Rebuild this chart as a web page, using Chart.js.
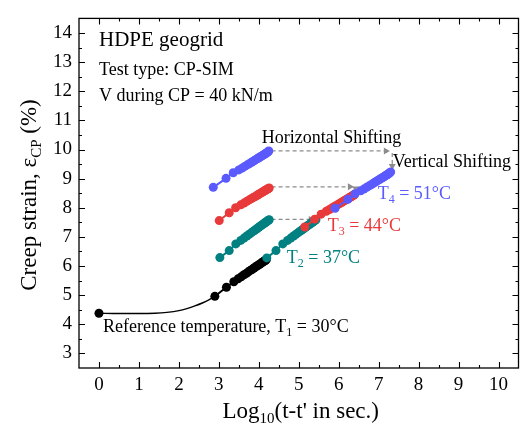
<!DOCTYPE html>
<html><head><meta charset="utf-8">
<script src="https://cdn.jsdelivr.net/npm/chart.js@4"></script>
<style>html,body{margin:0;padding:0;background:#fff}canvas{display:block}</style>
</head><body>
<canvas id="c" width="523" height="428"></canvas>
<script>
// ---- tick values ----
const xTickValues = [0,1,2,3,4,5,6,7,8,9,10];
const yTickValues = [3,4,5,6,7,8,9,10,11,12,13,14];

// ---- reference (T1 = 30°C) ----
const refCurveX = [0,0.5,1.0,1.4,1.7,2.0,2.2,2.4,2.6,2.75,2.9];
const refCurveY = [4.38,4.37,4.37,4.38,4.41,4.47,4.54,4.63,4.74,4.84,4.96];
const refX = [2.9,3.19,3.375,3.48,3.56,3.63,3.69,3.74,3.79,3.83,3.87,3.90,3.93,3.96,3.99,4.02,4.04,4.07,4.09,4.11,4.13,4.15,4.17,4.19];
const refY = [4.96,5.27,5.46,5.56,5.63,5.70,5.75,5.80,5.85,5.88,5.92,5.95,5.98,6.01,6.03,6.06,6.08,6.11,6.13,6.15,6.16,6.18,6.20,6.22];

// ---- T2 = 37°C ----
const t2X  = [3.025,3.26,3.425,3.55,3.63,3.70,3.76,3.81,3.86,3.90,3.94,3.97,4.00,4.03,4.06,4.09,4.11,4.14,4.16,4.18,4.20,4.22,4.24,4.26];
const t2Y  = [6.29,6.53,6.76,6.88,6.96,7.03,7.09,7.14,7.19,7.23,7.27,7.30,7.33,7.36,7.39,7.42,7.44,7.47,7.49,7.51,7.53,7.55,7.57,7.59];
const t2sX = [4.20,4.43,4.60,4.72,4.80,4.87,4.93,4.98,5.03,5.07,5.11,5.14,5.17,5.20,5.23,5.26,5.28,5.31,5.33,5.35,5.37,5.39,5.41,5.43];
const t2sY = [6.28,6.53,6.76,6.88,6.96,7.03,7.09,7.14,7.19,7.23,7.27,7.30,7.33,7.36,7.39,7.42,7.44,7.47,7.49,7.51,7.53,7.55,7.57,7.59];

// ---- T3 = 44°C ----
const t3X  = [3.01,3.26,3.42,3.55,3.63,3.70,3.76,3.81,3.86,3.90,3.94,3.97,4.00,4.03,4.06,4.09,4.11,4.14,4.16,4.18,4.20,4.22,4.24,4.26];
const t3Y  = [7.56,7.83,8.00,8.10,8.16,8.22,8.27,8.31,8.35,8.38,8.41,8.44,8.46,8.49,8.51,8.54,8.55,8.58,8.59,8.61,8.63,8.64,8.66,8.68];
const t3sX = [5.15,5.40,5.56,5.69,5.77,5.84,5.90,5.95,6.00,6.04,6.08,6.11,6.14,6.17,6.20,6.23,6.25,6.28,6.30,6.32,6.34,6.36,6.38,6.40];
const t3sY = [7.34,7.61,7.78,7.88,7.94,8.00,8.05,8.09,8.13,8.16,8.19,8.22,8.24,8.27,8.29,8.32,8.33,8.36,8.37,8.39,8.41,8.42,8.44,8.46];

// ---- T4 = 51°C ----
const t4X  = [2.86,3.18,3.36,3.50,3.58,3.65,3.71,3.76,3.81,3.85,3.89,3.93,3.96,3.99,4.02,4.05,4.08,4.10,4.13,4.15,4.17,4.19,4.21,4.23,4.25];
const t4Y  = [8.70,9.01,9.20,9.30,9.36,9.42,9.47,9.51,9.55,9.59,9.62,9.66,9.68,9.71,9.73,9.76,9.78,9.80,9.83,9.84,9.86,9.88,9.90,9.92,9.95];
const t4sX = [5.91,6.23,6.41,6.55,6.63,6.70,6.76,6.81,6.86,6.90,6.94,6.98,7.01,7.04,7.07,7.10,7.13,7.15,7.18,7.20,7.22,7.24,7.26,7.28,7.30];
const t4sY = [7.98,8.29,8.48,8.58,8.64,8.70,8.75,8.79,8.83,8.87,8.90,8.94,8.96,8.99,9.01,9.04,9.06,9.08,9.11,9.12,9.14,9.16,9.18,9.20,9.23];

// ---- shifting arrows [x1,y1,x2,y2] ----
const shiftArrows = [
  [4.32,9.95,7.28,9.95],
  [7.34,9.88,7.34,9.30],
  [4.32,8.72,6.38,8.72],
  [6.43,8.68,6.43,8.52],
  [4.32,7.60,5.40,7.60]
];

const C_BLUE='#5a5aff', C_RED='#e83a3a', C_TEAL='#008080', C_BLACK='#000000';
const FONT='"Liberation Serif","Times New Roman",serif';

function pts(xs, ys){ return xs.map((x,i)=>({x:x,y:ys[i]})); }
function markerSet(xs, ys, color){
  return {data:pts(xs,ys), showLine:true, borderColor:color, backgroundColor:color,
          borderWidth:2, pointRadius:4.5, pointHoverRadius:4.5, pointBorderWidth:0};
}

// text annotations: parts [text, isSub], anchor in data coordinates (left, baseline)
const labels = [
  {x:0.0,  y:13.54, size:21, color:C_BLACK, parts:[['HDPE geogrid',0]]},
  {x:0.0,  y:12.56, size:18, color:C_BLACK, parts:[['Test type: CP-SIM',0]]},
  {x:0.0,  y:11.65, size:18, color:C_BLACK, parts:[['V during CP = 40 kN/m',0]]},
  {x:4.075,y:10.22, size:18, color:C_BLACK, parts:[['Horizontal Shifting',0]]},
  {x:7.35, y:9.40,  size:18, color:C_BLACK, parts:[['Vertical Shifting',0]]},
  {x:6.975,y:8.31,  size:18, color:C_BLUE,  parts:[['T',0],['4',1],[' = 51°C',0]]},
  {x:5.725,y:7.20,  size:18, color:C_RED,   parts:[['T',0],['3',1],[' = 44°C',0]]},
  {x:4.70, y:6.09,  size:18, color:C_TEAL,  parts:[['T',0],['2',1],[' = 37°C',0]]},
  {x:0.10, y:3.73,  size:18, color:C_BLACK, parts:[['Reference temperature, T',0],['1',1],[' = 30°C',0]]}
];

function richWidth(ctx, parts, size){
  let w=0;
  for(const [t,s] of parts){ ctx.font=(s?Math.round(size*0.65):size)+'px '+FONT; w+=ctx.measureText(t).width; }
  return w;
}
function drawRich(ctx, parts, x, y, size, color){
  ctx.fillStyle=color; ctx.textBaseline='alphabetic'; ctx.textAlign='left';
  let cx=x;
  for(const [t,s] of parts){
    ctx.font=(s?Math.round(size*0.65):size)+'px '+FONT;
    ctx.fillText(t, cx, y + (s? size*0.22 : 0));
    cx += ctx.measureText(t).width;
  }
}

const framePlugin = {
  id:'frame',
  beforeDatasetsDraw(chart){
    const ctx=chart.ctx, xs=chart.scales.x, ys=chart.scales.y;
    ctx.save();
    ctx.strokeStyle='#8c8c8c'; ctx.fillStyle='#8c8c8c'; ctx.lineWidth=1.2;
    for(const [x1,y1,x2,y2] of shiftArrows){
      const p1x=xs.getPixelForValue(x1), p1y=ys.getPixelForValue(y1);
      const p2x=xs.getPixelForValue(x2), p2y=ys.getPixelForValue(y2);
      ctx.setLineDash([4,3]);
      ctx.beginPath(); ctx.moveTo(p1x,p1y); ctx.lineTo(p2x,p2y); ctx.stroke();
      ctx.setLineDash([]);
      const a=Math.atan2(p2y-p1y,p2x-p1x), L=6, W=3.5;
      ctx.beginPath();
      ctx.moveTo(p2x,p2y);
      ctx.lineTo(p2x-L*Math.cos(a)+W*Math.sin(a), p2y-L*Math.sin(a)-W*Math.cos(a));
      ctx.lineTo(p2x-L*Math.cos(a)-W*Math.sin(a), p2y-L*Math.sin(a)+W*Math.cos(a));
      ctx.closePath(); ctx.fill();
    }
    ctx.restore();
  },
  afterDraw(chart){
    const ctx=chart.ctx, a=chart.chartArea, xs=chart.scales.x, ys=chart.scales.y;
    ctx.save();
    ctx.strokeStyle='#000'; ctx.lineWidth=1.3;
    ctx.strokeRect(a.left, a.top, a.right-a.left, a.bottom-a.top);
    ctx.lineWidth=1.1;
    ctx.beginPath();
    for(let v=xs.min; v<=xs.max+1e-9; v+=0.5){
      const major=Math.abs(v-Math.round(v))<1e-6, L=major?6:3, p=Math.round(xs.getPixelForValue(v))+0.5;
      if(p<=a.left+1||p>=a.right-1) continue;
      ctx.moveTo(p,a.bottom); ctx.lineTo(p,a.bottom-L);
      ctx.moveTo(p,a.top); ctx.lineTo(p,a.top+L);
    }
    for(let v=ys.min; v<=ys.max+1e-9; v+=0.5){
      const major=Math.abs(v-Math.round(v))<1e-6, L=major?6:3, p=Math.round(ys.getPixelForValue(v))+0.5;
      if(p<=a.top+1||p>=a.bottom-1) continue;
      ctx.moveTo(a.left,p); ctx.lineTo(a.left+L,p);
      ctx.moveTo(a.right,p); ctx.lineTo(a.right-L,p);
    }
    ctx.stroke();
    // annotations
    for(const lb of labels){
      drawRich(ctx, lb.parts, xs.getPixelForValue(lb.x), ys.getPixelForValue(lb.y), lb.size, lb.color);
    }
    // x axis title
    const xt=[['Log',0],['10',1],["(t-t' in sec.)",0]];
    const xw=richWidth(ctx,xt,23);
    drawRich(ctx, xt, (a.left+a.right)/2 - xw/2 + 2, 418, 23, '#000');
    // y axis title (rotated)
    const yt=[['Creep strain, ε',0],['CP',1],[' (%)',0]];
    ctx.translate(36, 195);
    ctx.rotate(-Math.PI/2);
    const yw=richWidth(ctx,yt,23);
    drawRich(ctx, yt, -yw/2, 0, 23, '#000');
    ctx.restore();
  }
};

new Chart(document.getElementById('c'), {
  type:'scatter',
  data:{datasets:[
    {data:pts(refCurveX,refCurveY), showLine:true, borderColor:C_BLACK, borderWidth:1.4,
     pointRadius:0, pointHoverRadius:0, tension:0.4, cubicInterpolationMode:'monotone'},
    {data:[{x:refCurveX[0],y:refCurveY[0]}], showLine:false, backgroundColor:C_BLACK, borderColor:C_BLACK, pointRadius:4.5, pointBorderWidth:0},
    markerSet(t4X,t4Y,C_BLUE),
    markerSet(t3X,t3Y,C_RED),
    markerSet(t2X,t2Y,C_TEAL),
    markerSet(t4sX,t4sY,C_BLUE),
    markerSet(t3sX,t3sY,C_RED),
    markerSet(t2sX,t2sY,C_TEAL),
    markerSet(refX,refY,C_BLACK)
  ]},
  options:{
    responsive:false, animation:false, devicePixelRatio:1,
    layout:{padding:{top:8,right:4,left:0,bottom:0}},
    plugins:{legend:{display:false}, tooltip:{enabled:false}},
    scales:{
      x:{type:'linear', min:-0.5, max:10.5,
         afterBuildTicks:s=>{ s.ticks=xTickValues.map(v=>({value:v})); },
         afterFit:s=>{ s.height=60; },
         grid:{display:false, drawTicks:false}, border:{display:false},
         ticks:{font:{family:FONT,size:19}, color:'#000', padding:6, maxRotation:0, autoSkip:false}},
      y:{type:'linear', min:2.5, max:14.5,
         afterBuildTicks:s=>{ s.ticks=yTickValues.map(v=>({value:v})); },
         afterFit:s=>{ s.width=79; },
         grid:{display:false, drawTicks:false}, border:{display:false},
         ticks:{font:{family:FONT,size:19}, color:'#000', padding:7, autoSkip:false}}
    }
  },
  plugins:[framePlugin]
});
</script>
</body></html>
